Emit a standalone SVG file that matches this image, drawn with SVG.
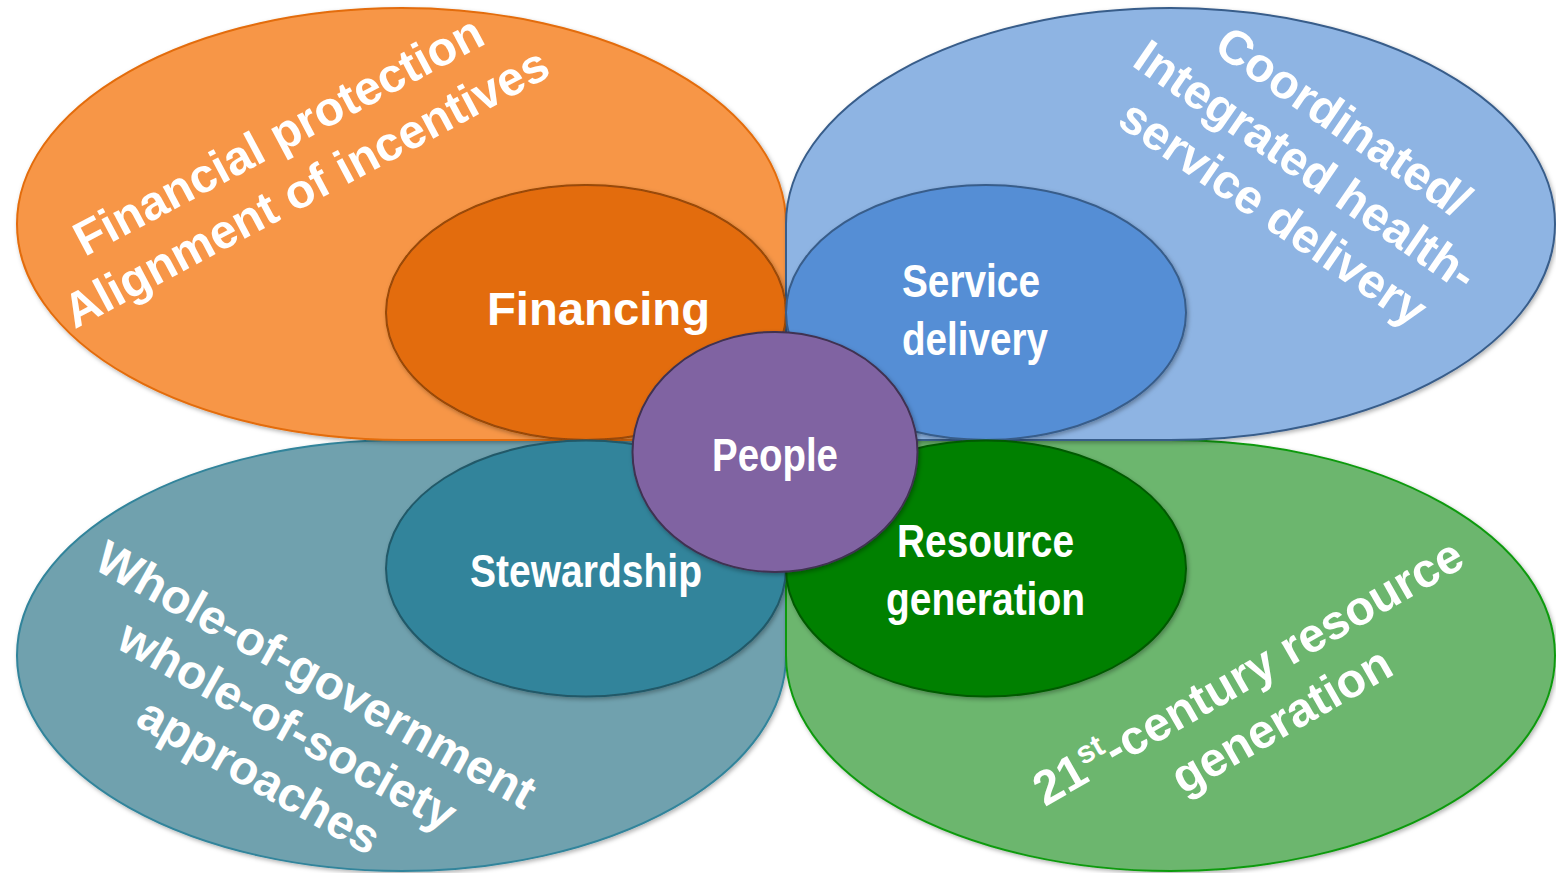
<svg xmlns="http://www.w3.org/2000/svg" width="1556" height="873" viewBox="0 0 1556 873">
<defs>
<filter id="sh" x="-5%" y="-5%" width="110%" height="110%">
<feDropShadow dx="1.5" dy="2" stdDeviation="2" flood-color="#000" flood-opacity="0.3"/>
</filter>
<style>
.petal{stroke-width:2;filter:url(#sh)}
.inner{stroke-width:2;filter:url(#sh)}
.big{font-family:"Liberation Sans",Arial,sans-serif;font-weight:bold;font-size:48px;fill:#fff;text-anchor:middle}
.lbl{font-family:"Liberation Sans Narrow","Liberation Sans",Arial,sans-serif;font-weight:bold;font-size:47px;fill:#fff}
</style>
</defs>
<rect width="1556" height="873" fill="#fff"/>

<g id="petal-stewardship">
<path class="petal" d="M786,440 L786,655.5 A384.5,215.5 0 0 1 401.5,871 A384.5,215.5 0 0 1 17,655.5 A384.5,215.5 0 0 1 401.5,440 Z" fill="#6FA1AE" stroke="#31849B"/>
<text class="big" transform="translate(308,689) rotate(29.3)"><tspan x="0" y="0">Whole-of-government</tspan><tspan x="0" y="58">whole-of-society</tspan><tspan x="0" y="116">approaches</tspan></text>
</g>
<g id="petal-resource">
<path class="petal" d="M786,440 L1170.5,440 A384.5,215.5 0 0 1 1555,655.5 A384.5,215.5 0 0 1 1170.5,871 A384.5,215.5 0 0 1 786,655.5 Z" fill="#6CB66E" stroke="#0E9A0E"/>
<text class="big" transform="translate(1256,686) rotate(-29.8)"><tspan x="0" y="0">21<tspan dy="-17" font-size="31">st</tspan><tspan dy="17">-century resource</tspan></tspan><tspan x="5" y="58.5">generation</tspan></text>
</g>
<g id="petal-financing">
<path class="petal" d="M786,440 L401.5,440 A384.5,216 0 0 1 17,224 A384.5,216 0 0 1 401.5,8 A384.5,216 0 0 1 786,224 Z" fill="#F79646" stroke="#E36C0A"/>
<text class="big" transform="translate(286,150) rotate(-28)"><tspan x="0" y="0">Financial protection</tspan><tspan x="0" y="59">Alignment of incentives</tspan></text>
</g>
<g id="petal-service">
<path class="petal" d="M786,440 L786,224 A384.5,216 0 0 1 1170.5,8 A384.5,216 0 0 1 1555,224 A384.5,216 0 0 1 1170.5,440 Z" fill="#8EB4E3" stroke="#385D8A"/>
<text class="big" transform="translate(1334,135) rotate(34.5)"><tspan x="0" y="0">Coordinated/</tspan><tspan x="-6" y="57.5">Integrated health-</tspan><tspan x="-6" y="115">service delivery</tspan></text>
</g>

<g id="financing">
<ellipse class="inner" cx="586" cy="312.5" rx="200" ry="127.5" fill="#E36C0A" stroke="#984807"/>
<text class="lbl" x="487" y="325" font-size="55" textLength="223" lengthAdjust="spacingAndGlyphs">Financing</text>
</g>
<g id="service-delivery">
<ellipse class="inner" cx="986" cy="312.5" rx="200" ry="127.5" fill="#558ED5" stroke="#385D8A"/>
<text class="lbl" x="902" y="297" textLength="138" lengthAdjust="spacingAndGlyphs">Service</text>
<text class="lbl" x="902" y="355" textLength="146" lengthAdjust="spacingAndGlyphs">delivery</text>
</g>
<g id="stewardship">
<ellipse class="inner" cx="586" cy="568.5" rx="200" ry="128" fill="#31849B" stroke="#215968"/>
<text class="lbl" x="470" y="587" textLength="232" lengthAdjust="spacingAndGlyphs">Stewardship</text>
</g>
<g id="resource-generation">
<ellipse class="inner" cx="986" cy="568.5" rx="200" ry="128" fill="#008000" stroke="#005A00"/>
<text class="lbl" x="897" y="557" textLength="177" lengthAdjust="spacingAndGlyphs">Resource</text>
<text class="lbl" x="886" y="615" textLength="199" lengthAdjust="spacingAndGlyphs">generation</text>
</g>
<g id="people">
<ellipse class="inner" cx="775" cy="452" rx="142.5" ry="120" fill="#8064A2" stroke="#3F3151"/>
<text class="lbl" x="712" y="471" textLength="126" lengthAdjust="spacingAndGlyphs">People</text>
</g>
<g id="connectors"></g>
</svg>
